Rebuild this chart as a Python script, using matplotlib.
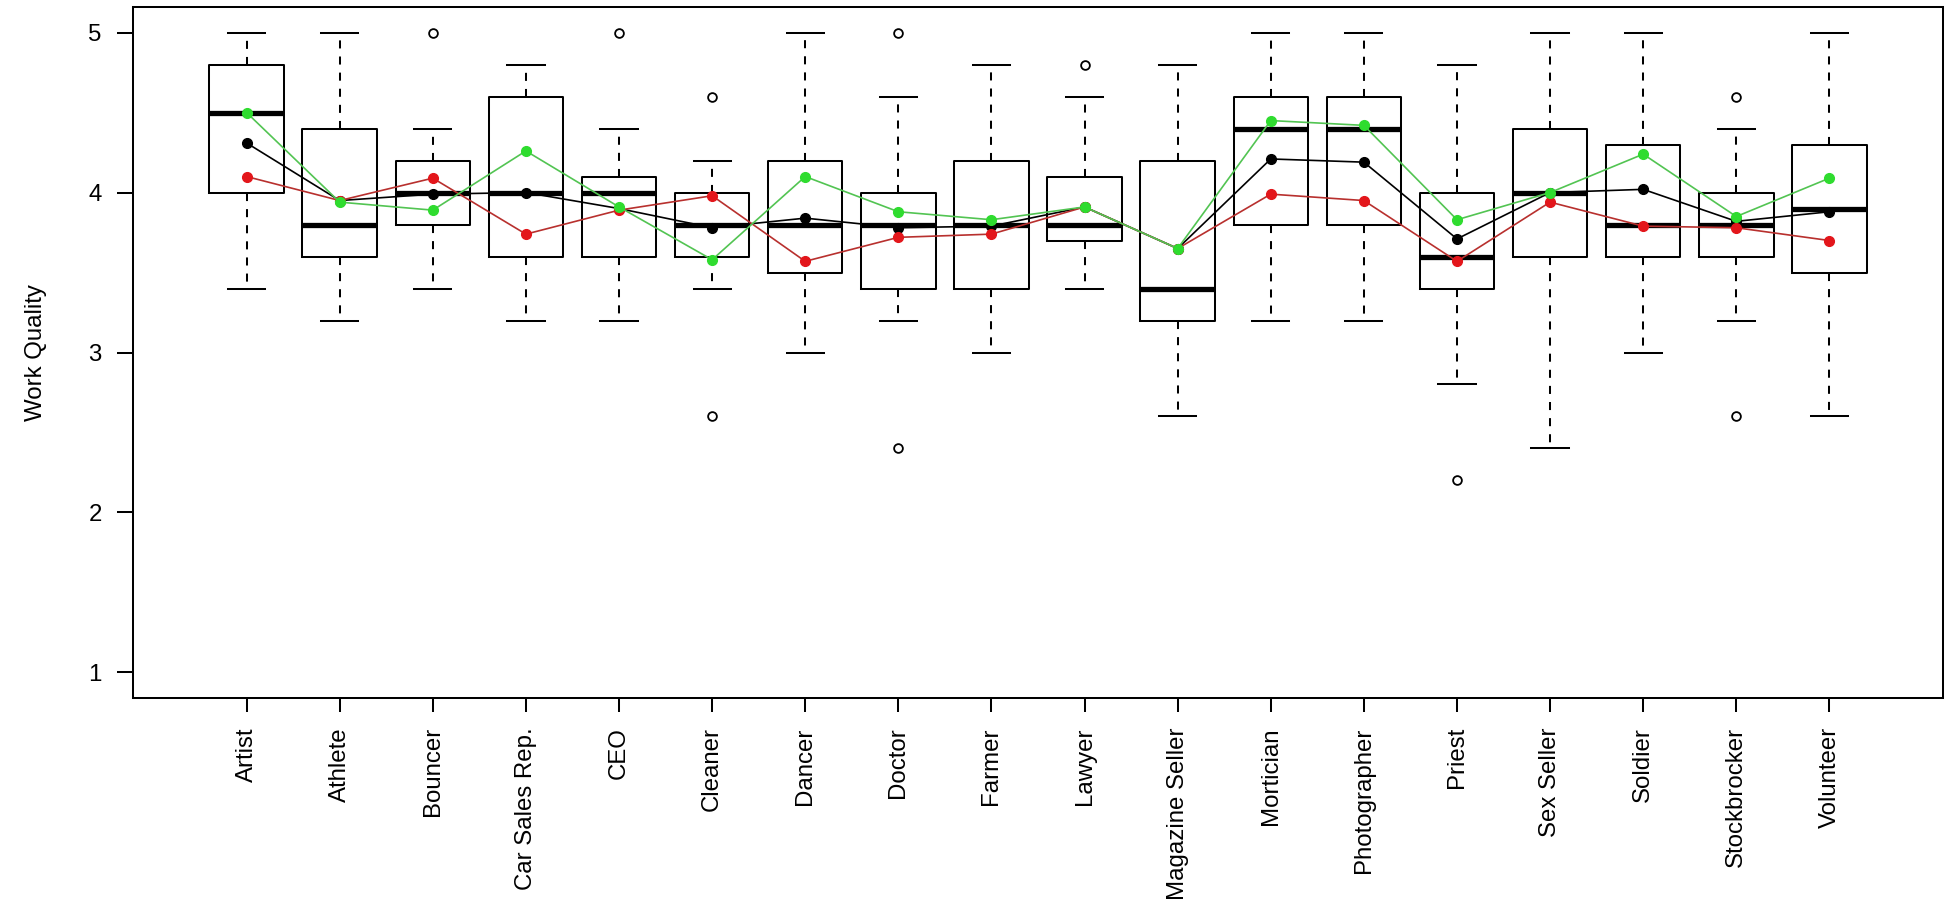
import numpy as np
import matplotlib
matplotlib.use("Agg")
import matplotlib.pyplot as plt

# job categories
jobs = ['Artist', 'Athlete', 'Bouncer', 'Car Sales Rep.', 'CEO', 'Cleaner',
        'Dancer', 'Doctor', 'Farmer', 'Lawyer', 'Magazine Seller', 'Mortician',
        'Photographer', 'Priest', 'Sex Seller', 'Soldier', 'Stockbrocker',
        'Volunteer']

# box statistics
whishi = [5.0, 5.0, 4.4, 4.8, 4.4, 4.2, 5.0, 4.6, 4.8, 4.6, 4.8, 5.0, 5.0, 4.8, 5.0, 5.0, 4.4, 5.0]
q3 = [4.8, 4.4, 4.2, 4.6, 4.1, 4.0, 4.2, 4.0, 4.2, 4.1, 4.2, 4.6, 4.6, 4.0, 4.4, 4.3, 4.0, 4.3]
med = [4.5, 3.8, 4.0, 4.0, 4.0, 3.8, 3.8, 3.8, 3.8, 3.8, 3.4, 4.4, 4.4, 3.6, 4.0, 3.8, 3.8, 3.9]
q1 = [4.0, 3.6, 3.8, 3.6, 3.6, 3.6, 3.5, 3.4, 3.4, 3.7, 3.2, 3.8, 3.8, 3.4, 3.6, 3.6, 3.6, 3.5]
whislo = [3.4, 3.2, 3.4, 3.2, 3.2, 3.4, 3.0, 3.2, 3.0, 3.4, 2.6, 3.2, 3.2, 2.8, 2.4, 3.0, 3.2, 2.6]
fliers = [[], [], [5.0], [], [5.0], [4.6, 2.6], [], [5.0, 2.4], [], [4.8],
          [], [], [], [2.2], [], [], [4.6, 2.6], []]

# mean lines
mean_all = [4.31, 3.95, 3.99, 4.00, 3.90, 3.78, 3.84, 3.78, 3.79, 3.91, 3.65, 4.21, 4.19, 3.71, 4.00, 4.02, 3.82, 3.88]
mean_red = [4.10, 3.95, 4.09, 3.74, 3.89, 3.98, 3.57, 3.72, 3.74, 3.91, 3.65, 3.99, 3.95, 3.57, 3.94, 3.79, 3.78, 3.70]
mean_green = [4.50, 3.94, 3.89, 4.26, 3.91, 3.58, 4.10, 3.88, 3.83, 3.91, 3.65, 4.45, 4.42, 3.83, 4.00, 4.24, 3.85, 4.09]

plt.rcParams['font.family'] = ['Liberation Sans', 'DejaVu Sans']
plt.rcParams['font.size'] = 17.3

fig = plt.figure(figsize=(19.5, 9.19), dpi=100)
ax = fig.add_axes([133/1950, 1-698/919, 1810/1950, 691/919])

pos = np.arange(1, len(jobs)+1)
stats = []
for i in range(len(jobs)):
	stats.append({'med': med[i], 'q1': q1[i], 'q3': q3[i],
	              'whislo': whislo[i], 'whishi': whishi[i], 'fliers': fliers[i]})

lw = 1.45
ax.bxp(stats, positions=pos, widths=0.8, capwidths=0.4, showfliers=True,
       boxprops=dict(color='black', lw=lw),
       whiskerprops=dict(color='black', lw=lw, linestyle=(0, (4, 4))),
       capprops=dict(color='black', lw=lw),
       medianprops=dict(color='black', lw=3.8, solid_capstyle='butt'),
       flierprops=dict(marker='o', markerfacecolor='none', markeredgecolor='black',
                       markersize=6.3, markeredgewidth=1.3))

ax.plot(pos, mean_all, '-', color='black', lw=1.2, marker='o', ms=7, mfc='black', mec='black', zorder=4)
ax.plot(pos, mean_red, '-', color='#b8302e', lw=1.2, marker='o', ms=7, mfc='#e3161b', mec='#e3161b', zorder=5)
ax.plot(pos, mean_green, '-', color='#52c452', lw=1.2, marker='o', ms=7, mfc='#2fdc2f', mec='#2fdc2f', zorder=6)

ax.set_xlim(-0.22, 19.22)
ax.set_ylim(0.84, 5.16)
ax.set_xticks(pos)
ax.set_xticklabels(jobs, rotation=90)
ax.set_yticks([1, 2, 3, 4, 5])
ax.set_yticklabels(['1', '2', '3', '4', '5'])
ax.set_ylabel('Work Quality', labelpad=30)

for s in ax.spines.values():
	s.set_linewidth(lw)
ax.tick_params(axis='x', which='major', length=10, width=lw, pad=11)
ax.tick_params(axis='y', which='major', length=11.5, width=lw, pad=11)

fig.savefig('out.png', dpi=100)
